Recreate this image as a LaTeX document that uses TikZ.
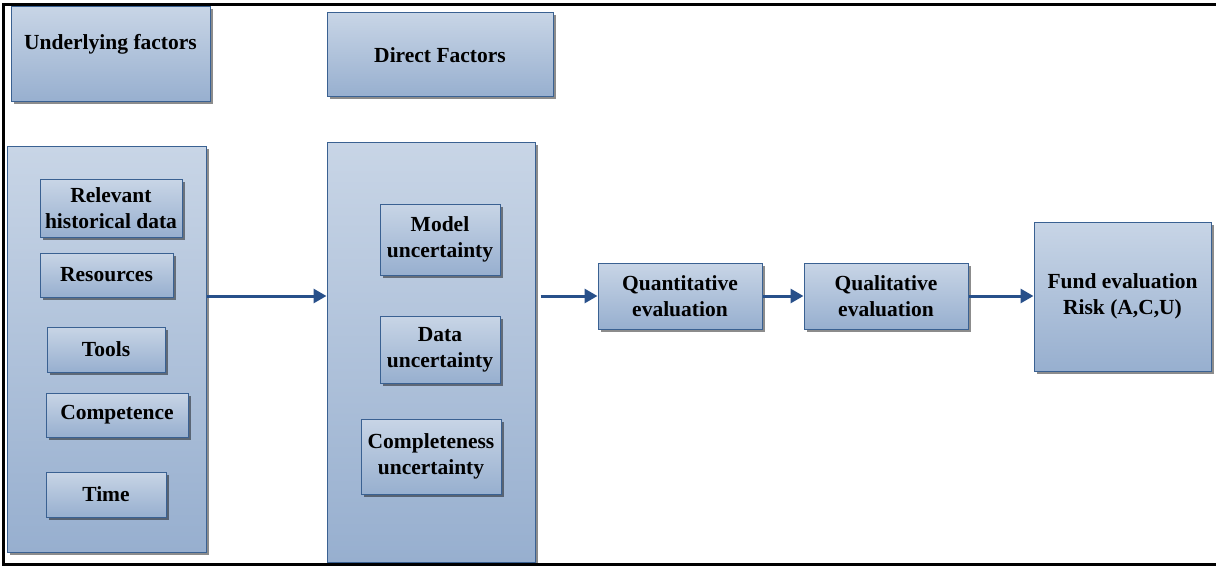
\documentclass[tikz,border=0pt]{standalone}
\usepackage{fontspec}
\setmainfont{Liberation Serif}
\usetikzlibrary{shadows,arrows.meta,positioning}
\definecolor{boxtop}{HTML}{C8D5E6}
\definecolor{boxbot}{HTML}{97AFCF}
\definecolor{boxline}{HTML}{3A6192}
\definecolor{arrowblue}{HTML}{28508A}

\begin{document}
\begin{tikzpicture}[x=1pt,y=-1pt]
\tikzset{factorbox/.style={draw=boxline, line width=1pt, top color=boxtop, bottom color=boxbot,
           drop shadow={shadow xshift=2.5pt, shadow yshift=-2.5pt, fill=black, opacity=0.45},
           align=center, inner sep=0pt, font=\fontsize{21.5}{26}\selectfont\bfseries},
         labeltext/.style={align=center, font=\fontsize{21.5}{26}\selectfont\bfseries},
         flowarrow/.style={draw=arrowblue, line width=3pt, -{Triangle[length=13pt,width=14pt]}}}
\useasboundingbox (0,0) rectangle (1216,567);
% outer frame
\draw[line width=3pt] (1216,4.5) -- (3.5,4.5) -- (3.5,564.5) -- (1216,564.5);
% headings
\node[factorbox, minimum width=199pt, minimum height=95pt] (under) at (110.5,54.5) {};
\node[labeltext] (underT) at ([yshift=10.5pt]under.center) {Underlying factors};
\node[factorbox, minimum width=226pt, minimum height=84pt] (direct) at (440,55) {Direct Factors};
% underlying factors
\node[factorbox, minimum width=199pt, minimum height=405pt] (left) at (106.5,349.5) {};
\node[factorbox, minimum width=142pt, minimum height=57pt] (hist) at (111,208.5) {Relevant\\historical data};
\node[factorbox, minimum width=133pt, minimum height=44pt] (res) at (106.5,275) {Resources};
\node[factorbox, minimum width=118pt, minimum height=45pt] (tools) at (106,349.5) {Tools};
\node[factorbox, minimum width=142pt, minimum height=44pt] (comp) at (117,415) {Competence};
\node[factorbox, minimum width=120pt, minimum height=45pt] (time) at (106,494.5) {Time};
% direct factors
\node[factorbox, minimum width=208pt, minimum height=419pt] (mid) at (431,352.5) {};
\node[factorbox, minimum width=120pt, minimum height=71pt] (model) at (440,239.5) {Model\\uncertainty};
\node[factorbox, minimum width=120pt, minimum height=67pt] (data) at (440,349.5) {Data\\uncertainty};
\node[factorbox, minimum width=140pt, minimum height=75pt] (compl) at (431,456.5) {Completeness\\uncertainty};
% evaluation chain
\node[factorbox, minimum width=164pt, minimum height=66pt] (quant) at (680,296) {Quantitative\\evaluation};
\node[factorbox, minimum width=164pt, minimum height=66pt] (qual) at (886,296) {Qualitative\\evaluation};
\node[factorbox, minimum width=177pt, minimum height=149pt] (fund) at (1122.5,296.5) {Fund evaluation\\Risk (A,C,U)};
% arrows
\draw[flowarrow] (left.east |- quant.west) -- (mid.west |- quant.west);
\draw[flowarrow, shorten <=5pt] (mid.east |- quant.west) -- (quant.west);
\draw[flowarrow] (quant.east) -- (qual.west);
\draw[flowarrow] (qual.east) -- (fund.west |- qual.east);
\end{tikzpicture}
\end{document}
